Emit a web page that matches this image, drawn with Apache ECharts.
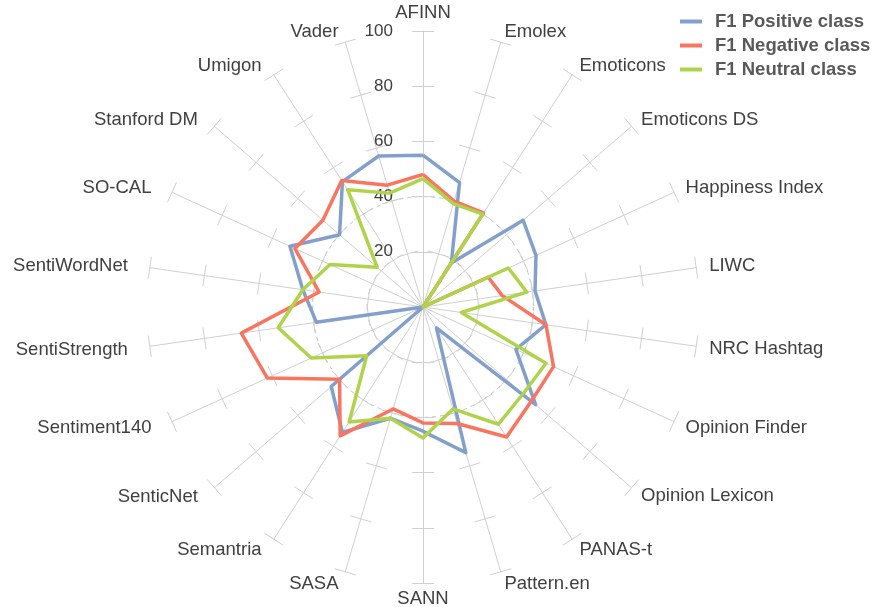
<!DOCTYPE html>
<html>
<head>
<meta charset="utf-8">
<script src="https://cdn.jsdelivr.net/npm/echarts@6/dist/echarts.min.js"></script>
<style>
  html, body { margin: 0; padding: 0; background: #fff; }
  #chart { width: 875px; height: 607px; }
</style>
</head>
<body>
<div id="chart"></div>
<script>
// methods, in clockwise order from the top
var methods = ['AFINN', 'Emolex', 'Emoticons', 'Emoticons DS', 'Happiness Index', 'LIWC',
    'NRC Hashtag', 'Opinion Finder', 'Opinion Lexicon', 'PANAS-t', 'Pattern.en', 'SANN',
    'SASA', 'Semantria', 'SenticNet', 'Sentiment140', 'SentiStrength', 'SentiWordNet',
    'SO-CAL', 'Stanford DM', 'Umigon', 'Vader'];

var f1Positive = [55, 47, 19, 48, 45, 41, 45, 37, 54, 9, 55, 45,
    42, 54, 44, 0, 39, 44, 53, 40, 54, 57];
var f1Negative = [48, 40, 40.5, 0, 26, 29, 45, 52, 52, 56, 44, 42,
    38.5, 55.5, 40, 62, 66.5, 38, 51, 48, 54.5, 46];
var f1Neutral = [46.5, 39, 40, 0, 34, 38, 14, 49, 48, 50.5, 38.5, 47.5,
    42, 49.5, 27, 44.5, 53, 44, 37, 22, 50.5, 43];

var tickValues = [20, 40, 60, 80, 100];

var seriesNames = ['F1 Positive class', 'F1 Negative class', 'F1 Neutral class'];
var colors = ['#82a0cb', '#fa7560', '#afd34a'];

// echarts lays radar axes counter-clockwise, so flip everything after the first
function clockwise(arr) {
    return [arr[0]].concat(arr.slice(1).reverse());
}

var font = "'Liberation Sans', Arial, sans-serif";
var gridColor = '#d0d0d0';
var center = [423, 307];
var radius = 276;

// a little extra room for the slanted names, by angle
var rich = {};
methods.forEach(function (name, i) {
    var a = i * 2 * Math.PI / methods.length;
    var s = Math.sin(a), c = Math.cos(a);
    var pad = [0, 0, 0, 0];
    var st = { color: '#404040', fontFamily: font, fontSize: 18.5 };
    if (Math.abs(s) > 0.01) {
        if (s > 0) pad[3] = Math.round(7 * s);
        else pad[1] = Math.round(-16 * s);
        if (c > 0) pad[2] = Math.round(10 * Math.pow(c, 1.5));
        else pad[0] = Math.round(-9 * c + 3 + (s < 0 ? 1 : 0));
    } else if (c > 0) {
        st.lineHeight = 13; // top name sits a bit lower
    }
    st.padding = pad;
    rich['n' + i] = st;
});

var indicators = clockwise(methods).map(function (name, i) {
    var ind = { name: name, min: 0, max: 100 };
    if (i !== 0) ind.axisLabel = { show: false };
    return ind;
});
var bareIndicators = clockwise(methods).map(function (name) {
    return { name: name, min: 0, max: 100 };
});

var myChart = echarts.init(document.getElementById('chart'));

var option = {
    backgroundColor: '#fff',
    animation: false,
    legend: {
        orient: 'vertical',
        left: 680,
        top: 12,
        padding: 0,
        itemWidth: 22,
        itemHeight: 4,
        itemGap: 5,
        icon: 'rect',
        data: seriesNames,
        textStyle: {
            fontFamily: font,
            fontSize: 18.5,
            fontWeight: 'bold',
            color: '#595959',
            padding: [0, 0, 0, 8]
        }
    },
    radar: [
        {
            center: center,
            radius: radius,
            startAngle: 90,
            shape: 'circle',
            splitNumber: 5,
            indicator: indicators,
            nameGap: 6,
            axisName: {
                color: '#404040',
                fontFamily: font,
                fontSize: 18.5,
                formatter: function (name) {
                    return '{n' + methods.indexOf(name) + '|' + name + '}';
                },
                rich: rich
            },
            axisLine: { lineStyle: { color: gridColor, width: 1 } },
            axisTick: { show: true, length: 11, customValues: tickValues, lineStyle: { color: gridColor } },
            axisLabel: {
                show: true,
                margin: 30,
                color: '#404040',
                fontFamily: font,
                fontSize: 17,
                formatter: function (v) { return v === 0 ? '' : v; }
            },
            splitLine: {
                lineStyle: {
                    type: [4, 4],
                    color: ['transparent', '#bfbfbf', 'transparent', 'transparent', 'transparent', 'transparent']
                }
            },
            splitArea: { show: false }
        },
        {
            // second copy only for the other half of each tick
            center: center,
            radius: radius,
            startAngle: 90,
            shape: 'circle',
            splitNumber: 5,
            indicator: bareIndicators,
            axisName: { show: false },
            axisLine: { show: false },
            axisTick: { show: true, length: -11, customValues: tickValues, lineStyle: { color: gridColor } },
            axisLabel: { show: false },
            splitLine: { show: false },
            splitArea: { show: false }
        }
    ],
    series: [{
        type: 'radar',
        radarIndex: 0,
        symbol: 'none',
        data: [f1Positive, f1Negative, f1Neutral].map(function (vals, i) {
            return {
                name: seriesNames[i],
                value: clockwise(vals),
                lineStyle: { color: colors[i], width: 3.5 },
                itemStyle: { color: colors[i] }
            };
        })
    }]
};

myChart.setOption(option);
</script>
</body>
</html>
